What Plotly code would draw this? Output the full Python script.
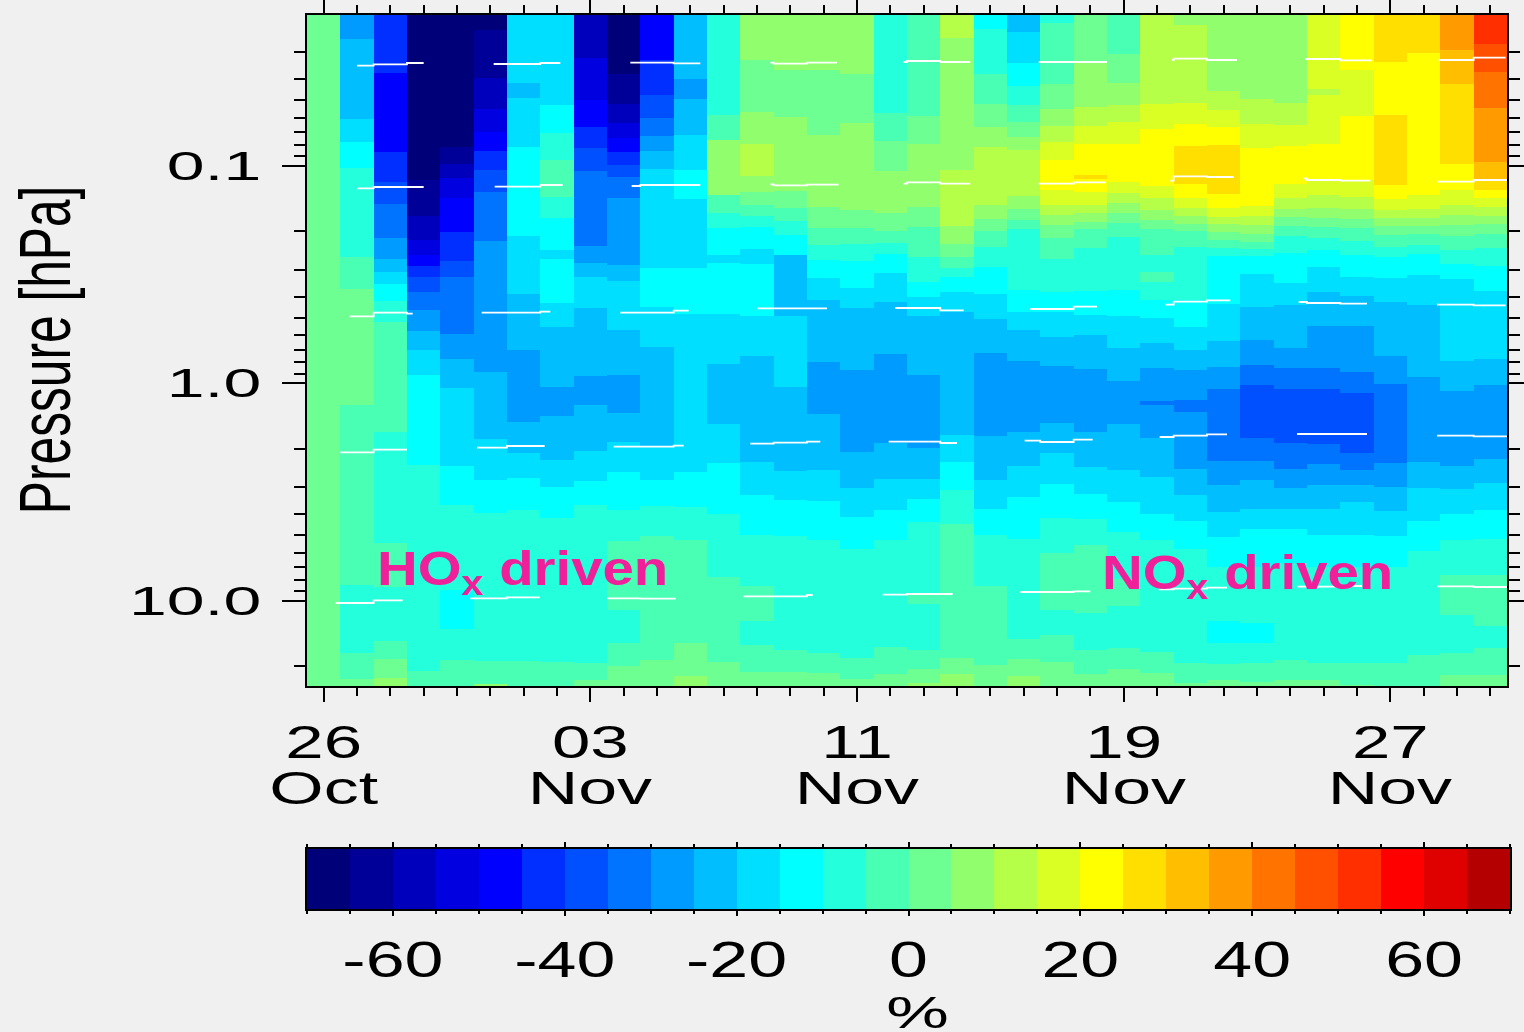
import plotly.graph_objects as go

# ---- tick labels -----------------------------------------------------
day_tick_days = [0, 8, 16, 24, 32]
day_tick_text = ["26", "03", "11", "19", "27"]
month_tick_text = ["Oct", "Nov", "Nov", "Nov", "Nov"]
pressure_ticks = [0.1, 1.0, 10.0]
pressure_tick_text = ["0.1", "1.0", "10.0"]
pressure_minor = [0.02, 0.03, 0.04, 0.05, 0.06, 0.07, 0.08, 0.09,
                  0.2, 0.3, 0.4, 0.5, 0.6, 0.7, 0.8, 0.9,
                  2, 3, 4, 5, 6, 7, 8, 9, 20]
legend_ticks = [-60, -40, -20, 0, 20, 40, 60]
legend_tick_text = ["-60", "-40", "-20", "0", "20", "40", "60"]

# colour classes, 5 % wide, -70 .. 70
class_edges = list(range(-70, 75, 5))
class_values = [-68, -63, -58, -53, -48, -43, -38, -33, -28, -23, -18, -13, -8, -3,
                2, 7, 12, 17, 22, 27, 32, 37, 42, 47, 52, 57, 62, 67]
class_colors = ["#000078", "#000098", "#0000bc", "#0000e0", "#0000ff", "#002fff", "#0050ff",
                "#0073ff", "#009bff", "#00beff", "#00dfff", "#00ffff", "#24ffdc", "#48ffb4",
                "#6dff91", "#91ff6d", "#b6ff48", "#daff24", "#ffff00", "#ffdf00", "#ffbe00",
                "#ff9b00", "#ff7300", "#ff5000", "#ff2f00", "#ff0000", "#df0000", "#b40000"]

# ---- field: per day, (class value, level where the band ends), top to bottom ----
# levels run 0 .. 671 from the top of the pressure range to the bottom
oct26 = [(2, 671)]
oct27 = [(-28, 24), (-23, 104), (-18, 127), (-13, 153), (-8, 242), (-3, 274), (2, 390), (-3, 570), (-8, 638), (-3, 664), (2, 671)]
oct28 = [(-43, 58), (-48, 137), (-43, 167), (-38, 189), (-33, 223), (-28, 244), (-23, 257), (-18, 269), (-13, 286), (-8, 307), (-3, 417), (-8, 528), (-3, 572), (-8, 626), (-3, 644), (2, 663), (7, 671)]
oct29 = [(-68, 165), (-63, 201), (-58, 225), (-53, 240), (-48, 251), (-43, 262), (-38, 277), (-33, 295), (-28, 316), (-23, 335), (-18, 360), (-13, 450), (-8, 656), (-3, 671)]
oct30 = [(-68, 132), (-63, 149), (-58, 163), (-53, 183), (-48, 217), (-43, 246), (-38, 262), (-33, 319), (-28, 344), (-23, 373), (-18, 451), (-13, 490), (-8, 575), (-13, 614), (-8, 645), (-3, 671)]
oct31 = [(-68, 15), (-63, 63), (-58, 94), (-53, 117), (-48, 136), (-43, 155), (-38, 177), (-33, 226), (-28, 357), (-23, 424), (-18, 465), (-13, 498), (-8, 646), (-3, 669), (7, 671)]
nov01 = [(-18, 68), (-23, 83), (-18, 132), (-13, 221), (-18, 279), (-23, 335), (-28, 407), (-23, 438), (-18, 463), (-13, 495), (-8, 646), (-3, 671)]
nov02 = [(-18, 90), (-13, 118), (-8, 145), (-3, 182), (-8, 203), (-13, 235), (-18, 244), (-13, 288), (-18, 312), (-23, 372), (-28, 401), (-23, 445), (-18, 472), (-13, 503), (-8, 647), (-3, 671)]
nov03 = [(-58, 43), (-53, 85), (-48, 112), (-43, 133), (-38, 156), (-33, 231), (-28, 248), (-23, 262), (-18, 293), (-23, 361), (-28, 390), (-23, 436), (-18, 466), (-13, 490), (-8, 648), (-3, 665), (2, 671)]
nov04 = [(-68, 59), (-63, 89), (-58, 108), (-53, 123), (-48, 137), (-43, 150), (-38, 162), (-33, 183), (-28, 250), (-23, 266), (-18, 315), (-23, 360), (-28, 398), (-23, 427), (-18, 457), (-13, 495), (-8, 526), (-3, 595), (-8, 628), (-3, 651), (2, 671)]
nov05 = [(-48, 45), (-43, 80), (-38, 103), (-33, 121), (-28, 136), (-23, 154), (-18, 253), (-13, 292), (-18, 332), (-23, 432), (-18, 465), (-13, 491), (-8, 521), (-3, 645), (2, 671)]
nov06 = [(-23, 64), (-28, 84), (-23, 120), (-18, 155), (-13, 184), (-18, 253), (-13, 299), (-18, 457), (-13, 492), (-8, 525), (-3, 628), (2, 661), (7, 671)]
nov07 = [(-8, 100), (-3, 125), (7, 180), (-3, 198), (-8, 213), (-13, 240), (-18, 248), (-13, 299), (-18, 349), (-23, 409), (-18, 448), (-13, 499), (-8, 562), (-3, 647), (2, 671)]
nov08 = [(7, 45), (2, 97), (7, 129), (12, 161), (7, 177), (2, 190), (-3, 201), (-8, 212), (-13, 234), (-18, 249), (-13, 301), (-18, 341), (-23, 447), (-18, 480), (-13, 520), (-8, 571), (-3, 606), (-8, 630), (-3, 657), (2, 671)]
nov09 = [(7, 55), (2, 102), (7, 176), (2, 193), (-3, 206), (-8, 220), (-13, 240), (-23, 301), (-18, 372), (-23, 456), (-18, 485), (-13, 521), (-8, 635), (-3, 657), (2, 671)]
nov10 = [(7, 55), (2, 120), (7, 192), (2, 213), (-3, 230), (-8, 245), (-13, 263), (-18, 285), (-23, 347), (-28, 399), (-23, 455), (-18, 486), (-13, 525), (-8, 638), (-3, 658), (2, 671)]
nov11 = [(7, 59), (2, 108), (7, 195), (2, 213), (-3, 229), (-8, 246), (-13, 273), (-18, 293), (-23, 355), (-28, 437), (-23, 473), (-18, 502), (-13, 534), (-8, 643), (-3, 664), (2, 671)]
nov12 = [(-8, 98), (-3, 126), (2, 156), (7, 198), (2, 216), (-3, 228), (-8, 239), (-13, 258), (-18, 287), (-23, 339), (-28, 428), (-23, 464), (-18, 495), (-13, 525), (-8, 632), (-3, 659), (2, 671)]
nov13 = [(-3, 101), (2, 129), (7, 192), (2, 212), (-3, 242), (-8, 267), (-13, 282), (-18, 301), (-23, 360), (-28, 433), (-23, 464), (-18, 484), (-13, 507), (-8, 580), (-3, 589), (-8, 635), (-3, 654), (2, 668), (7, 671)]
nov14 = [(12, 23), (7, 155), (12, 211), (7, 229), (2, 242), (-3, 253), (-8, 262), (-13, 277), (-18, 297), (-23, 420), (-18, 447), (-13, 475), (-8, 509), (-3, 643), (2, 659), (7, 671)]
nov15 = [(-13, 14), (-8, 59), (-3, 89), (2, 112), (7, 132), (12, 190), (7, 204), (2, 216), (-3, 232), (-8, 252), (-13, 279), (-18, 304), (-23, 338), (-28, 421), (-23, 465), (-18, 494), (-13, 520), (-8, 571), (-3, 650), (2, 671)]
nov16 = [(-23, 17), (-18, 48), (-13, 71), (-8, 90), (-3, 107), (2, 122), (7, 135), (12, 181), (7, 194), (2, 205), (-3, 214), (-8, 275), (-13, 297), (-18, 315), (-23, 346), (-28, 417), (-23, 451), (-18, 482), (-13, 524), (-8, 624), (-3, 644), (2, 661), (7, 671)]
nov17 = [(-8, 8), (-3, 69), (2, 94), (7, 111), (12, 127), (17, 145), (22, 175), (17, 190), (12, 200), (7, 210), (2, 223), (-3, 244), (-8, 277), (-13, 297), (-18, 322), (-23, 351), (-28, 408), (-23, 438), (-18, 469), (-13, 503), (-8, 538), (-3, 595), (-8, 620), (-3, 647), (2, 671)]
nov18 = [(2, 48), (7, 92), (12, 111), (17, 129), (22, 160), (27, 164), (22, 177), (17, 190), (12, 198), (7, 207), (2, 214), (-3, 233), (-8, 276), (-13, 300), (-18, 320), (-23, 354), (-28, 417), (-23, 452), (-18, 479), (-13, 504), (-8, 530), (-3, 598), (-8, 635), (-3, 659), (2, 671)]
nov19 = [(-3, 39), (2, 68), (7, 90), (12, 107), (17, 129), (22, 167), (17, 178), (12, 188), (7, 198), (2, 208), (-3, 222), (-8, 275), (-13, 301), (-18, 333), (-23, 366), (-28, 409), (-23, 455), (-18, 487), (-13, 517), (-8, 564), (-3, 591), (-8, 633), (-3, 654), (2, 671)]
nov20 = [(12, 89), (17, 114), (22, 171), (17, 183), (12, 195), (7, 205), (2, 214), (-3, 240), (-8, 257), (-3, 267), (-8, 285), (-13, 303), (-18, 328), (-23, 353), (-28, 386), (-33, 390), (-28, 423), (-23, 462), (-18, 499), (-13, 525), (-8, 637), (-3, 658), (2, 671)]
nov21 = [(7, 10), (12, 88), (17, 109), (22, 131), (27, 169), (22, 183), (17, 193), (12, 201), (7, 209), (2, 216), (-3, 232), (-8, 285), (-13, 312), (-18, 335), (-23, 355), (-28, 385), (-33, 397), (-28, 454), (-23, 480), (-18, 506), (-13, 534), (-8, 648), (-3, 668), (2, 671)]
nov22 = [(7, 76), (12, 95), (17, 112), (22, 130), (27, 179), (22, 193), (17, 202), (12, 209), (7, 217), (2, 225), (-3, 233), (-8, 241), (-13, 289), (-18, 326), (-23, 352), (-28, 374), (-33, 446), (-28, 470), (-23, 497), (-18, 522), (-13, 552), (-8, 606), (-13, 628), (-8, 649), (-3, 665), (2, 671)]
nov23 = [(7, 84), (12, 109), (17, 133), (22, 191), (17, 201), (12, 210), (7, 219), (2, 227), (-3, 234), (-8, 241), (-13, 259), (-18, 292), (-23, 325), (-28, 350), (-33, 370), (-38, 423), (-33, 446), (-28, 465), (-23, 494), (-18, 514), (-13, 552), (-8, 608), (-13, 628), (-8, 648), (-3, 667), (2, 671)]
nov24 = [(7, 88), (12, 110), (17, 131), (22, 169), (17, 183), (12, 194), (7, 202), (2, 211), (-3, 221), (-8, 238), (-13, 268), (-18, 290), (-23, 333), (-28, 353), (-33, 374), (-38, 428), (-33, 454), (-28, 473), (-23, 494), (-18, 514), (-13, 548), (-8, 645), (-3, 665), (2, 671)]
nov25 = [(17, 74), (12, 80), (17, 129), (22, 165), (17, 180), (12, 193), (7, 203), (2, 212), (-3, 223), (-8, 235), (-13, 252), (-18, 277), (-23, 311), (-28, 353), (-33, 374), (-38, 429), (-33, 449), (-28, 470), (-23, 494), (-18, 520), (-13, 552), (-8, 648), (-3, 665), (2, 671)]
nov26 = [(22, 55), (17, 101), (22, 165), (17, 182), (12, 194), (7, 204), (2, 213), (-3, 226), (-8, 240), (-13, 262), (-18, 281), (-23, 311), (-28, 357), (-33, 378), (-38, 438), (-33, 455), (-28, 470), (-23, 487), (-18, 520), (-13, 552), (-8, 648), (-3, 670), (2, 671)]
nov27 = [(27, 47), (22, 100), (27, 170), (22, 184), (17, 195), (12, 203), (7, 211), (2, 220), (-3, 232), (-8, 242), (-13, 263), (-18, 287), (-23, 341), (-28, 369), (-33, 448), (-28, 472), (-23, 496), (-18, 521), (-13, 552), (-8, 648), (-3, 671)]
nov28 = [(27, 38), (22, 180), (17, 194), (12, 203), (7, 211), (2, 219), (-3, 230), (-8, 239), (-13, 260), (-18, 290), (-23, 362), (-28, 447), (-23, 473), (-18, 506), (-13, 536), (-8, 640), (-3, 671)]
nov29 = [(37, 35), (32, 69), (27, 149), (22, 175), (17, 190), (12, 200), (7, 210), (2, 221), (-3, 235), (-8, 249), (-13, 264), (-18, 346), (-23, 376), (-28, 451), (-23, 474), (-18, 499), (-13, 525), (-8, 560), (-3, 600), (-8, 638), (-3, 660), (2, 671)]
nov30 = [(52, 29), (47, 57), (42, 93), (37, 147), (32, 166), (27, 175), (22, 183), (17, 192), (12, 201), (7, 209), (2, 219), (-3, 233), (-8, 251), (-13, 276), (-18, 344), (-23, 370), (-28, 444), (-23, 468), (-18, 495), (-13, 524), (-8, 560), (-3, 611), (-8, 633), (-3, 660), (2, 671)]

day_columns = [oct26, oct27, oct28, oct29, oct30, oct31, nov01, nov02, nov03, nov04, nov05, nov06,
               nov07, nov08, nov09, nov10, nov11, nov12, nov13, nov14, nov15, nov16, nov17, nov18,
               nov19, nov20, nov21, nov22, nov23, nov24, nov25, nov26, nov27, nov28, nov29, nov30]

# ---- white marks: (day stops, level of each piece) ----
dashes_top = [([1.0, 1.5, 2.5, 3.0], [50.7, 49.3, 48]), ([5.1, 6.5, 7.1], [49, 48]), ([9.2, 10.5, 11.3], [47.7, 48.3]),
              ([13.4, 13.5, 14.5, 15.4], [47.7, 48.7, 47.7]), ([17.4, 17.5, 18.5, 19.4], [47, 46, 47]), ([21.45, 23.5], [47]),
              ([25.45, 25.5, 26.5, 27.4], [45, 43.7, 45]), ([29.45, 30.5, 31.45], [44, 45.3]), ([33.45, 34.5, 35.46], [45, 42.7])]
dashes_upper = [([1.0, 1.5, 3.0], [173.3, 172]), ([5.13, 6.5, 7.17], [171.7, 170]), ([9.24, 9.5, 11.3], [171, 170]),
                ([13.4, 13.5, 14.5, 15.45], [169.3, 170.3, 169.7]), ([17.4, 17.5, 18.5, 19.4], [168.7, 167.3, 168.7]), ([21.45, 22.5, 23.46], [168.7, 167.3]),
                ([25.4, 25.5, 26.5, 27.3], [165.7, 161.3, 162]), ([29.4, 29.5, 30.5, 31.4], [163.3, 165, 165.7]), ([33.4, 34.5, 35.5], [166.7, 165])]
dashes_middle = [([0.78, 1.5, 2.5, 2.67], [301.3, 297.7, 298.7]), ([4.74, 6.5, 6.8], [297.7, 296.7]), ([8.9, 10.5, 10.95], [297.7, 295.7]),
                 ([13.0, 15.1], [293.3]), ([17.15, 18.5, 19.2], [293, 295.3]), ([21.2, 22.5, 23.2], [294, 291.7]),
                 ([25.25, 25.5, 26.5, 27.2], [289.7, 286.7, 285.3]), ([29.25, 29.5, 30.5, 31.3], [287, 288, 288.7]), ([33.4, 34.5, 35.46], [289.7, 290.3])]
dashes_lower = [([0.5, 1.5, 2.5], [437.3, 434.7]), ([4.6, 5.5, 6.63], [432.7, 431]), ([8.7, 10.5, 10.8], [431.7, 430.7]),
                ([12.8, 13.5, 14.5, 14.9], [428.7, 427.7, 426.7]), ([16.95, 18.5, 19.0], [426.7, 428]), ([21.03, 21.5, 22.5, 23.07], [425.7, 427, 424.7]),
                ([25.08, 25.5, 26.5, 27.1], [422, 420.7, 419.3]), ([29.2, 31.3], [419]), ([33.4, 34.5, 35.5], [420.7, 421.3])]
dashes_bottom = [([0.36, 1.5, 2.37], [588, 585.3]), ([4.4, 5.5, 6.48], [583.3, 582.3]), ([8.5, 9.5, 10.56], [583.3, 583.7]),
                 ([12.6, 14.5, 14.67], [581.3, 580]), ([16.77, 17.5, 18.87], [579.7, 579]), ([20.9, 22.5, 23.0], [577, 576.3]),
                 ([25.05, 25.5, 26.5, 27.1], [574.3, 573.7, 572.7]), ([29.2, 30.5, 31.15], [571.7, 571]), ([33.4, 34.5, 35.5], [571.3, 572])]

# ---- scales -----------------------------------------------------------
W, H = 1524, 1032
LOG_TOP, LOG_BOT = -1.694, 1.391
N_LEVELS = 671
BG = "#f0f0f0"
PINK = "#f0209a"
FONT = "Liberation Sans"


def fx(px):
    return px / W


def level_to_pressure(level):
    return 10 ** (LOG_TOP + (LOG_BOT - LOG_TOP) * level / N_LEVELS)


def expand(bands):
    out, start = [], 0
    for val, end in bands:
        out += [val] * (end - start)
        start = end
    return out


columns = [expand(c) for c in day_columns]
z = [[columns[d][lv] for d in range(len(columns))] for lv in range(N_LEVELS)]
y_edges = [level_to_pressure(lv) for lv in range(N_LEVELS + 1)]
x_edges = [d - 0.5 for d in range(len(columns) + 1)]

scale = []
for i, c in enumerate(class_colors):
    scale += [[i / 28, c], [(i + 1) / 28, c]]

fig = go.Figure()
fig.add_trace(go.Heatmap(x=x_edges, y=y_edges, z=z, coloraxis="coloraxis", hoverinfo="skip", xaxis="x", yaxis="y"))
for group in (dashes_top, dashes_upper, dashes_middle, dashes_lower, dashes_bottom):
    for stops, levels in group:
        fig.add_trace(go.Scatter(
            x=stops, y=[level_to_pressure(v) for v in levels + levels[-1:]],
            mode="lines", line=dict(color="white", width=1.8, shape="hv"),
            showlegend=False, hoverinfo="skip", xaxis="x", yaxis="y"))
fig.add_trace(go.Heatmap(x=class_edges, y=[0, 1], z=[class_values], coloraxis="coloraxis",
                         hoverinfo="skip", xaxis="x2", yaxis="y2"))

annotations = [
    dict(text="<b>HO<sub>x</sub> driven</b>", x=5.95, y=1 - 571 / H, xref="x", yref="paper", showarrow=False, yanchor="middle", xanchor="center",
         font=dict(family=FONT, size=49, color=PINK)),
    dict(text="<b>NO<sub>x</sub> driven</b>", x=27.72, y=1 - 575 / H, xref="x", yref="paper", showarrow=False, yanchor="middle", xanchor="center",
         font=dict(family=FONT, size=49, color=PINK)),
]
for d, m in zip(day_tick_days, month_tick_text):
    annotations.append(dict(text=m, x=d, y=1 - 788 / H, xref="x", yref="paper", showarrow=False,
                            yanchor="middle", xanchor="center", font=dict(family=FONT, size=46, color="black")))
annotations.append(dict(text="%", x=1.0, y=1 - 1012 / H, xref="x2", yref="paper", showarrow=False,
                        yanchor="middle", xanchor="center", font=dict(family=FONT, size=44, color="black")))
annotations.append(dict(text="Pressure [hPa]", textangle=-90, x=fx(45), y=1 - 350 / H, xref="paper", yref="paper", showarrow=False,
                        yanchor="middle", xanchor="center", font=dict(family=FONT, size=72, color="black")))

fig.update_layout(
    width=W, height=H, margin=dict(l=0, r=0, t=0, b=0), autosize=False,
    paper_bgcolor=BG, plot_bgcolor=BG, showlegend=False,
    coloraxis=dict(colorscale=scale, cmin=-70, cmax=70, showscale=False),
    annotations=annotations,
    xaxis=dict(domain=[fx(307), fx(1507)], range=[-0.5, 35.5], anchor="y", automargin=False,
               tickmode="array", tickvals=day_tick_days, ticktext=day_tick_text,
               ticks="outside", ticklen=14, tickwidth=2, tickcolor="black", ticklabelstandoff=1,
               tickfont=dict(family=FONT, size=46, color="black"),
               minor=dict(dtick=1, tick0=0, ticks="outside", ticklen=8, tickwidth=2, tickcolor="black", showgrid=False),
               showgrid=False, zeroline=False, showline=True, linecolor="black", linewidth=1.5, mirror="allticks"),
    yaxis=dict(domain=[1 - 686 / H, 1 - 15 / H], type="log", autorange=False, range=[LOG_BOT, LOG_TOP], anchor="x", automargin=False,
               tickmode="array", tickvals=pressure_ticks, ticktext=pressure_tick_text,
               ticks="outside", ticklen=23, tickwidth=1.5, tickcolor="black", ticklabelstandoff=13,
               tickfont=dict(family=FONT, size=40, color="black"),
               minor=dict(tickmode="array", tickvals=pressure_minor, ticks="outside", ticklen=11, tickwidth=1.5, tickcolor="black", showgrid=False),
               showgrid=False, zeroline=False, showline=True, linecolor="black", linewidth=1.5, mirror="allticks"),
    xaxis2=dict(domain=[fx(307), fx(1510)], range=[-70, 70], anchor="y2", automargin=False,
                tickmode="array", tickvals=legend_ticks, ticktext=legend_tick_text,
                ticks="outside", ticklen=5, tickwidth=2, tickcolor="black", ticklabelstandoff=1,
                tickfont=dict(family=FONT, size=50, color="black"),
                minor=dict(dtick=5, tick0=0, ticks="outside", ticklen=3, tickwidth=1.5, tickcolor="black", showgrid=False),
                showgrid=False, zeroline=False, showline=True, linecolor="black", linewidth=1.5, mirror="allticks"),
    yaxis2=dict(domain=[1 - 909 / H, 1 - 849 / H], range=[0, 1], anchor="x2", automargin=False, showticklabels=False, ticks="",
                showgrid=False, zeroline=False, showline=True, linecolor="black", linewidth=2, mirror=True),
)

# The reference lettering is stretched; widen each real text element about its anchor.
post = """
document.documentElement.style.margin='0';document.body.style.margin='0';document.body.style.overflow='hidden';
(function(){
  var gd=document.getElementById('{plot_id}');
  function sc(el,sx,mode){
    var b=el.getBBox();
    var cx=mode==='end'?b.x+b.width:b.x+b.width/2, cy=b.y+b.height/2;
    var t=el.getAttribute('transform')||'';
    el.setAttribute('transform',t+' translate('+cx+','+cy+') scale('+sx+',1) translate('+(-cx)+','+(-cy)+')');
  }
  function run(){
    if(!gd.querySelector('.xtick text')){setTimeout(run,30);return;}
    gd.querySelectorAll('g.xtick text').forEach(function(e){sc(e,1.5);});
    gd.querySelectorAll('g.ytick text').forEach(function(e){sc(e,1.7,'end');});
    gd.querySelectorAll('g.x2tick text').forEach(function(e){sc(e,1.4);});
    gd.querySelectorAll('text.annotation-text').forEach(function(e){
      var s=e.textContent;
      if(s.indexOf('driven')>=0) sc(e,1.15);
      else if(s.indexOf('Pressure')>=0) sc(e,0.69);
      else if(s==='%') sc(e,1.6);
      else sc(e,1.52);
    });
  }
  run();
})();
"""
fig.write_html("out.html", post_script=post, config=dict(displayModeBar=False))
